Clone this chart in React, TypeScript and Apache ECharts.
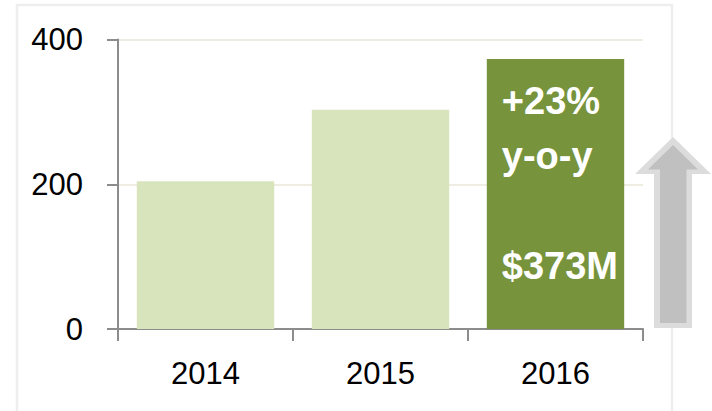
import React, { useEffect, useRef } from "react";
import * as echarts from "echarts";

const categories = ["2014", "2015", "2016"];
const revenue = [204, 303, 373];
const highlightLabel = "+23%\ny-o-y\n\n$373M";
const yTicks = [0, 200, 400];

const FONT = "'Liberation Sans', Arial, sans-serif";

export default function App() {
  const ref = useRef<HTMLDivElement>(null);
  useEffect(() => {
    if (!ref.current) return;
    document.body.style.margin = "0";
    const chart = echarts.init(ref.current, null, { renderer: "svg" });
    chart.setOption({
      animation: false,
      backgroundColor: "#ffffff",
      grid: { left: 118, right: 69, top: 39.5, bottom: 82 },
      xAxis: {
        type: "category",
        data: categories,
        boundaryGap: true,
        axisLine: { show: true, lineStyle: { color: "#8c8c8c", width: 2 } },
        axisTick: { show: true, length: 12, lineStyle: { color: "#8c8c8c", width: 2 } },
        axisLabel: { fontFamily: FONT, fontSize: 31, color: "#000", margin: 29 },
        splitLine: { show: false },
      },
      yAxis: {
        type: "value",
        min: yTicks[0],
        max: yTicks[yTicks.length - 1],
        interval: 200,
        axisLine: { show: true, lineStyle: { color: "#8c8c8c", width: 2 } },
        axisTick: { show: true, length: 11, lineStyle: { color: "#8c8c8c", width: 2 } },
        axisLabel: { fontFamily: FONT, fontSize: 31, color: "#000", margin: 35 },
        splitLine: { show: true, lineStyle: { color: "#efede2", width: 2 } },
      },
      series: [
        {
          type: "bar",
          barCategoryGap: "21.5%",
          data: revenue.map((v, i) =>
            i === revenue.length - 1
              ? {
                  value: v,
                  itemStyle: { color: "#77933c" },
                  label: {
                    show: true,
                    position: [15, 14],
                    formatter: highlightLabel,
                    fontFamily: FONT,
                    fontWeight: "bold",
                    fontSize: 38,
                    lineHeight: 55,
                    color: "#ffffff",
                    align: "left",
                    verticalAlign: "top",
                  },
                }
              : { value: v, itemStyle: { color: "#d8e4bc" } }
          ),
        },
      ],
      graphic: [
        {
          type: "polyline",
          z: -10,
          shape: { points: [[17, 411], [17, 5], [672, 5], [672, 411]] },
          style: { stroke: "#eeeeee", lineWidth: 2.5, fill: null },
        },
        {
          type: "polygon",
          shape: {
            points: [[673, 137], [711, 174], [692, 174], [692, 328], [654, 328], [654, 174], [635, 174]],
          },
          style: { fill: "#dcdcdc" },
        },
        {
          type: "polygon",
          shape: {
            points: [[673, 145], [698, 169.5], [686.5, 169.5], [686.5, 323], [660, 323], [660, 169.5], [648, 169.5]],
          },
          style: { fill: "#c0c0c0" },
        },
      ],
    });
    return () => chart.dispose();
  }, []);
  return <div ref={ref} style={{ position: "absolute", left: 0, top: 0, width: 712, height: 411 }} />;
}
